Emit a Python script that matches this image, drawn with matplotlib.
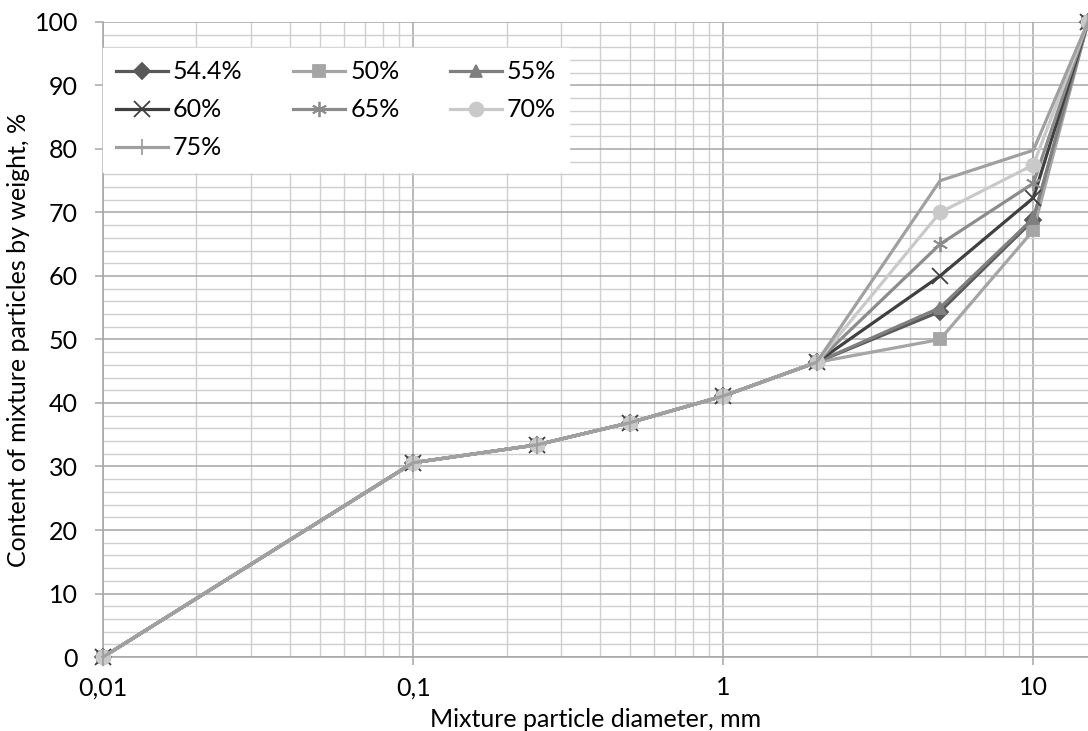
import matplotlib.pyplot as plt
from matplotlib.ticker import FixedLocator, FuncFormatter, LogLocator, MultipleLocator, NullFormatter

# sieve sizes, mm
DIAMETERS = [0.01, 0.1, 0.25, 0.5, 1, 2, 5, 10, 15]

# common part of the grading curve (0.01 .. 2 mm)
BASE = [0, 30.6, 33.4, 36.9, 41.1, 46.4]

SERIES_NAMES = ["54.4%", "50%", "55%", "60%", "65%", "70%", "75%"]
PASSING_5MM = [54.4, 50, 55, 60, 65, 70, 75]
PASSING_10MM = [68.8, 67.2, 69.1, 72.3, 74.6, 77.5, 79.8]
PASSING_15MM = [100, 100, 100, 100, 100, 100, 100]

COLORS = ["#595959", "#A5A5A5", "#7F7F7F", "#404040", "#8C8C8C", "#C9C9C9", "#A0A0A0"]
MARKERS = ["D", "s", "^", "x", (6, 2, 0), "o", "|"]
MARKER_SIZES = [8, 9, 9, 11, 11, 10, 12]

plt.rcParams["font.family"] = ["Lato", "DejaVu Sans"]

fig = plt.figure(figsize=(10.88, 7.31), dpi=100)
ax = fig.add_axes([0.0947, 0.1012, 0.9053, 0.8688])

lines = []
for i, name in enumerate(SERIES_NAMES):
    values = BASE + [PASSING_5MM[i], PASSING_10MM[i], PASSING_15MM[i]]
    ln, = ax.plot(DIAMETERS, values, color=COLORS[i], lw=2.3, marker=MARKERS[i],
                  ms=MARKER_SIZES[i], mew=1.3, label=name, clip_on=False, zorder=3)
    lines.append(ln)

ax.set_xscale("log")
ax.set_xlim(0.01, 15)
ax.set_ylim(0, 100)

ax.xaxis.set_major_locator(FixedLocator([0.01, 0.1, 1, 10]))
ax.xaxis.set_minor_locator(LogLocator(base=10, subs=range(2, 10), numticks=20))
ax.xaxis.set_minor_formatter(NullFormatter())
ax.xaxis.set_major_formatter(FuncFormatter(lambda v, p: f"{v:g}".replace(".", ",")))
ax.yaxis.set_major_locator(MultipleLocator(10))
ax.yaxis.set_minor_locator(MultipleLocator(2))

ax.grid(which="major", color="#A6A6A6", lw=1.1)
ax.grid(which="minor", color="#CFCFCF", lw=1.0)
ax.set_axisbelow(True)

for side in ["top", "right"]:
    ax.spines[side].set_visible(False)
for side in ["left", "bottom"]:
    ax.spines[side].set_color("#A6A6A6")
    ax.spines[side].set_linewidth(1.1)

ax.tick_params(which="major", length=6, width=1.1, color="#A6A6A6", labelsize=18)
ax.tick_params(axis="x", which="major", pad=8)
ax.tick_params(axis="y", which="major", pad=12)
ax.tick_params(which="minor", length=0)

ax.set_xlabel("Mixture particle diameter, mm", fontsize=18, labelpad=6)
ax.set_ylabel("Content of mixture particles by weight, %", fontsize=18, labelpad=3)

# legend is filled row by row: 3 per row
order = [0, 3, 6, 1, 4, 2, 5]
ax.legend([lines[i] for i in order], [SERIES_NAMES[i] for i in order],
          loc="upper left", bbox_to_anchor=(0.0, 0.959), ncol=3, fontsize=18,
          frameon=True, fancybox=False, edgecolor="white", framealpha=1,
          handlelength=2.1, handletextpad=0.2, columnspacing=2.0,
          labelspacing=0.6, borderaxespad=0.0, borderpad=0.5)

fig.savefig("out.png", dpi=100)
